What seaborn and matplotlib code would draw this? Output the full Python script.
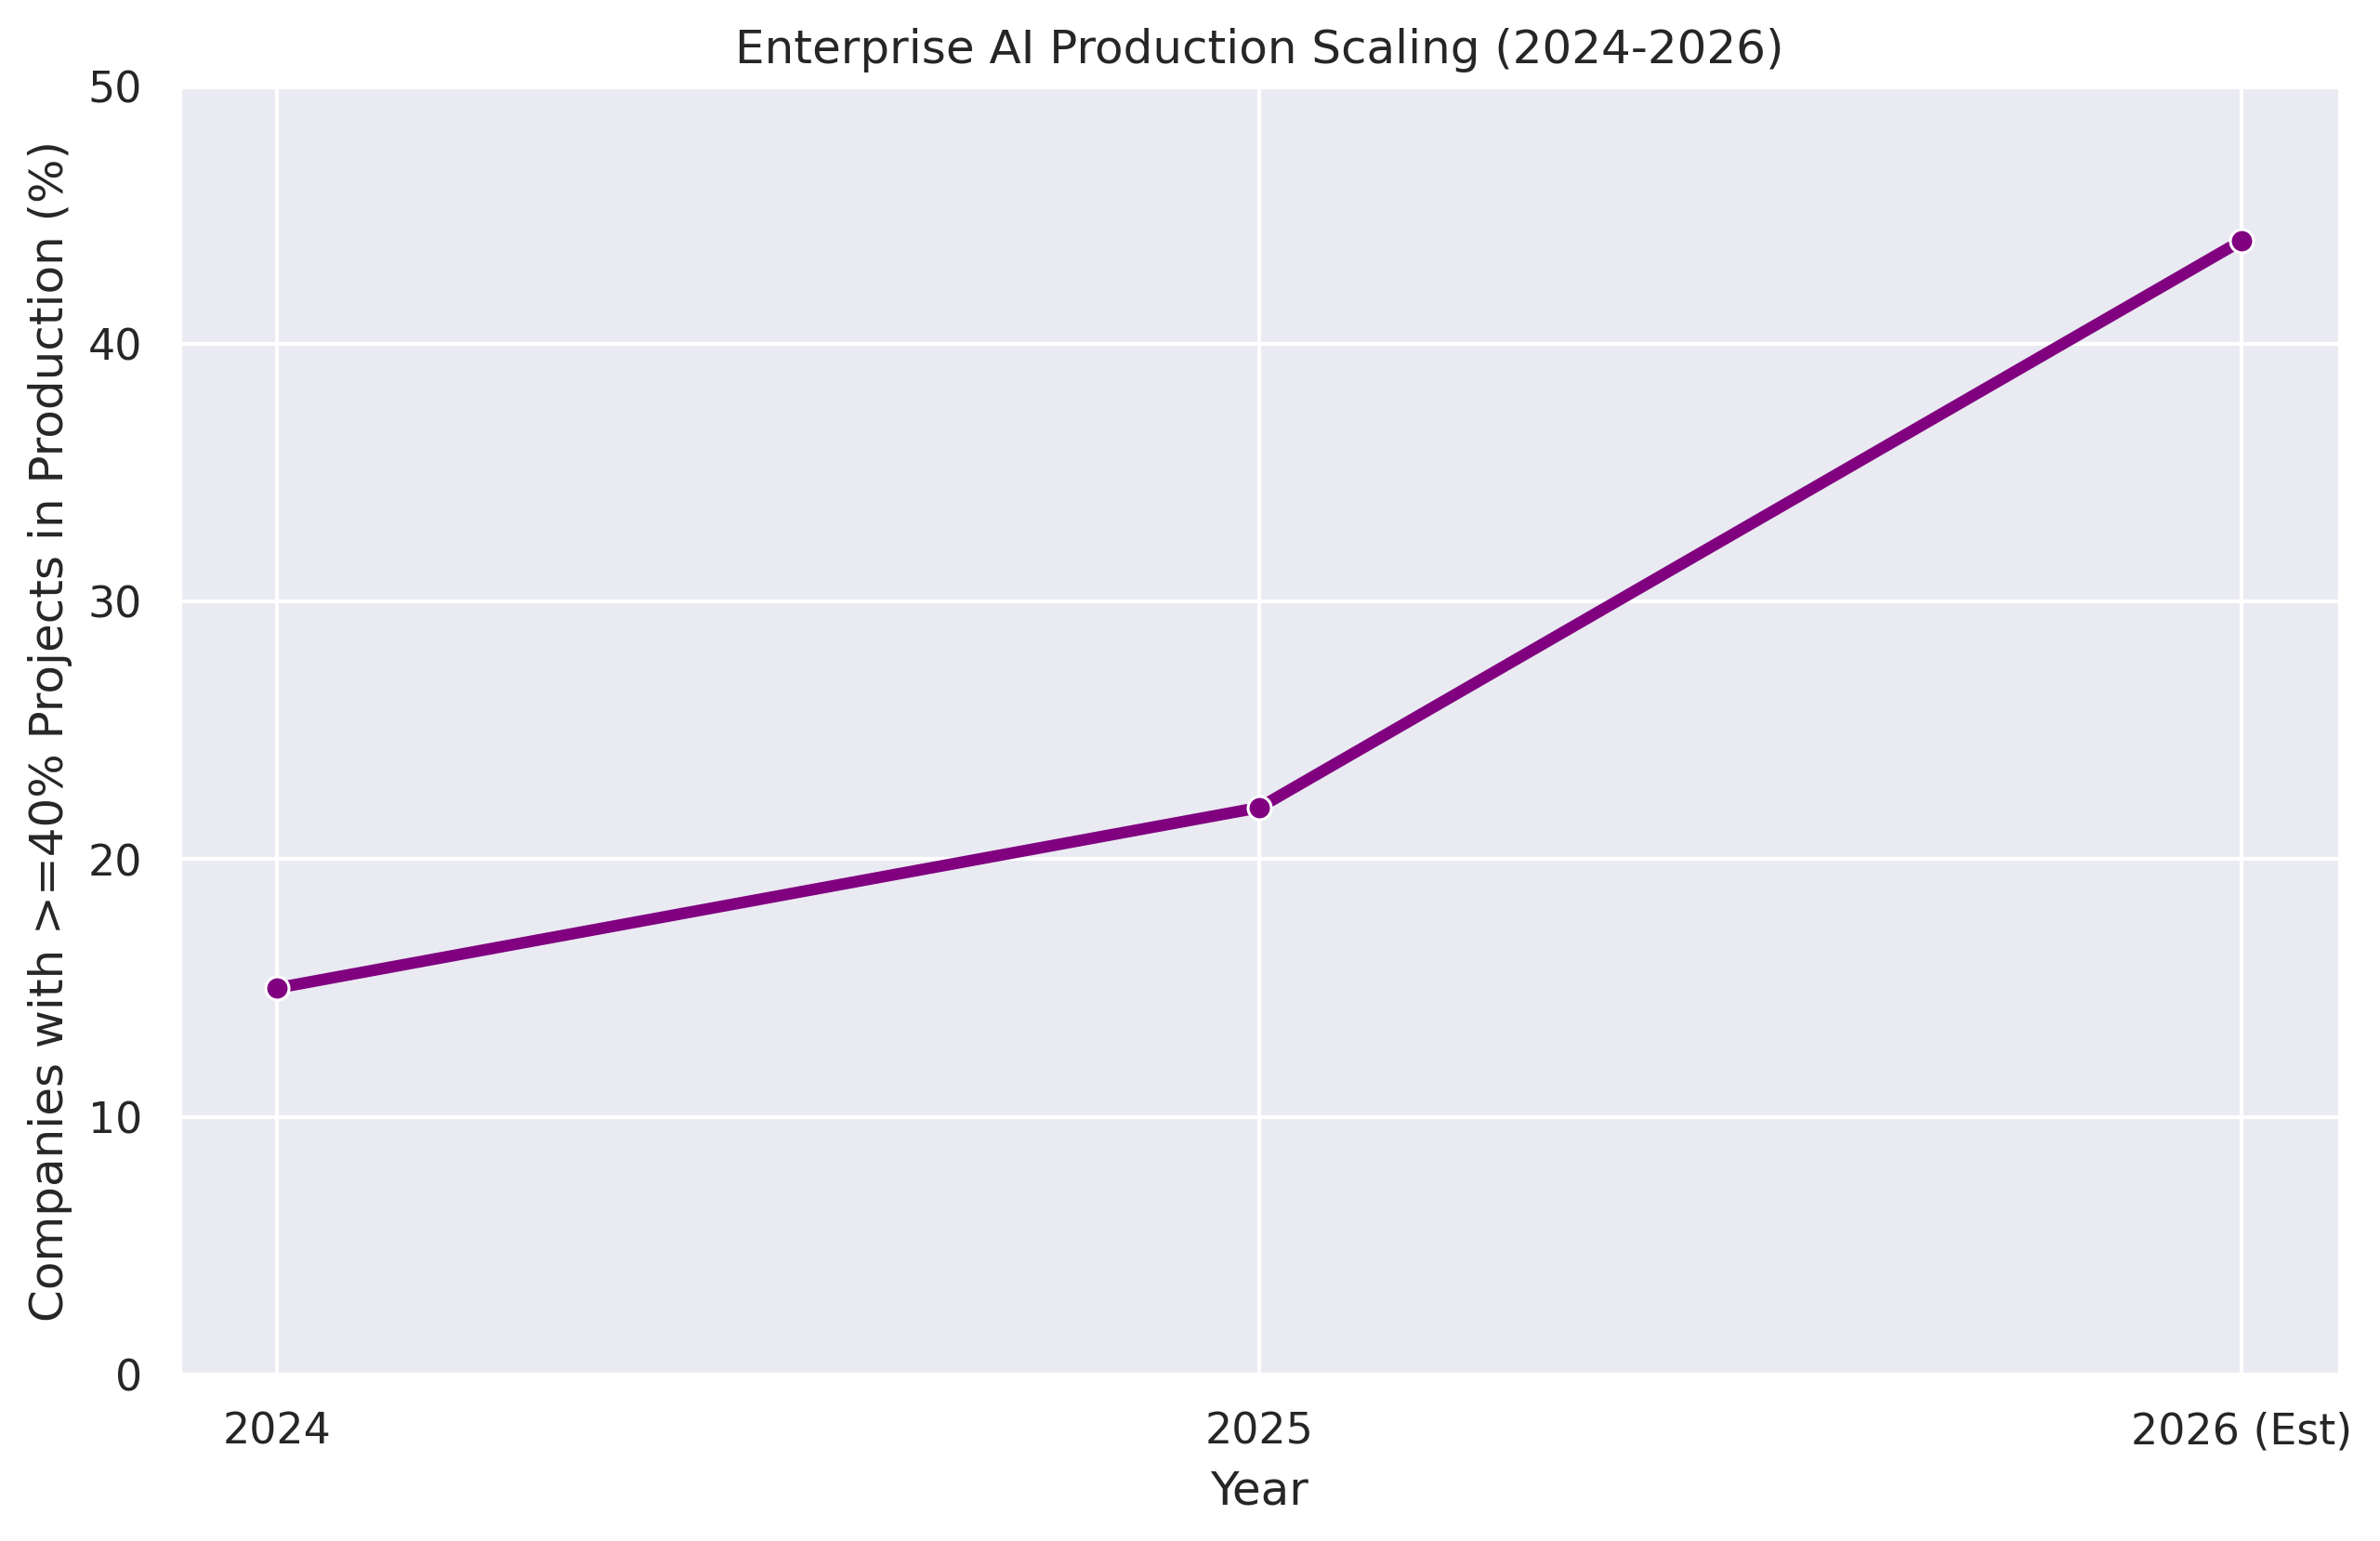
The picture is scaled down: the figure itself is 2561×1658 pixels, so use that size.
import matplotlib
matplotlib.use("Agg")
import matplotlib.pyplot as plt
import pandas as pd
import seaborn as sns

sns.set_theme(style="darkgrid")

years = ["2024", "2025", "2026 (Est)"]
pct_in_production = [15, 22, 44]

df = pd.DataFrame({"Year": years, "Pct": pct_in_production})

fig, ax = plt.subplots(figsize=(10, 6))
sns.lineplot(data=df, x="Year", y="Pct", marker="o", color="purple",
             linewidth=3, ax=ax)
ax.set_ylim(0, 50)
ax.set_title("Enterprise AI Production Scaling (2024-2026)")
ax.set_xlabel("Year")
ax.set_ylabel("Companies with >=40% Projects in Production (%)")

fig.savefig("out.png", dpi=300, bbox_inches="tight")
